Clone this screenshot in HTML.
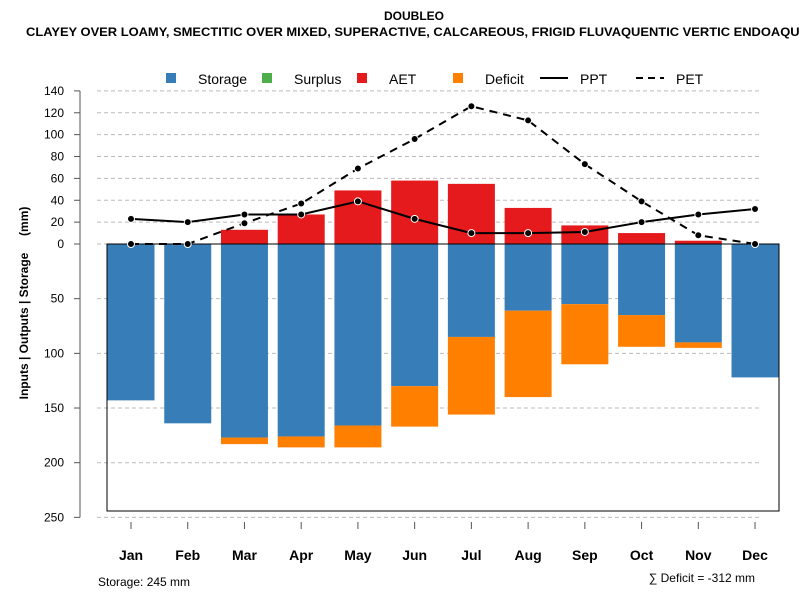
<!DOCTYPE html>
<html><head><meta charset="utf-8"><style>
body{margin:0;background:#fff;overflow:hidden;}
svg text{font-family:"Liberation Sans",sans-serif;}
</style></head><body>
<svg id="chart" width="800" height="600" xmlns="http://www.w3.org/2000/svg">
<text x="414" y="20" text-anchor="middle" font-size="12" font-weight="bold">DOUBLEO</text>
<text x="26" y="36" font-size="12" font-weight="bold" textLength="808" lengthAdjust="spacingAndGlyphs">CLAYEY OVER LOAMY, SMECTITIC OVER MIXED, SUPERACTIVE, CALCAREOUS, FRIGID FLUVAQUENTIC VERTIC ENDOAQUOLLS</text>
<g id="legend">
<rect x="166" y="73" width="10" height="10" fill="#377eb8"/>
<text x="198" y="84" font-size="14">Storage</text>
<rect x="262" y="73" width="10" height="10" fill="#4daf4a"/>
<text x="294" y="84" font-size="14">Surplus</text>
<rect x="357" y="73" width="10" height="10" fill="#e41a1c"/>
<text x="389" y="84" font-size="14">AET</text>
<rect x="453" y="73" width="10" height="10" fill="#ff7f00"/>
<text x="485" y="84" font-size="14">Deficit</text>
<line x1="540" y1="78" x2="568" y2="78" stroke="#000" stroke-width="2"/>
<text x="580" y="84" font-size="14">PPT</text>
<line x1="636" y1="78" x2="664" y2="78" stroke="#000" stroke-width="2" stroke-dasharray="7,5"/>
<text x="676" y="84" font-size="14">PET</text>
</g>
<g id="grid"></g><g id="bars"></g><g id="lines"></g><g id="axes"></g>
<text x="98" y="586" font-size="12">Storage: 245 mm</text>
<text x="755" y="582" text-anchor="end" font-size="12">∑ Deficit = -312 mm</text>
<text transform="translate(28,303) rotate(-90)" text-anchor="middle" font-size="12" font-weight="bold" xml:space="preserve" style="white-space:pre">Inputs | Outputs | Storage     (mm)</text>
</svg>
<script>
const months=["Jan","Feb","Mar","Apr","May","Jun","Jul","Aug","Sep","Oct","Nov","Dec"];
const storage=[143,164,177,176,166,130,85,61,55,65,90,122];
const deficit=[0,0,6,10,20,37,71,79,55,29,5,0];
const aet=[0,0,13,27,49,58,55,33,17,10,3,0];
const ppt=[23,20,27,27,39,23,10,10,11,20,27,32];
const pet=[0,0,19,37,69,96,126,113,73,39,8,0];
const upTicks=[0,20,40,60,80,100,120,140];
const downTicks=[50,100,150,200,250];
const NS="http://www.w3.org/2000/svg";
const Y0=244,K=1.0935;
const y=v=>Y0-v*K;
const x=i=>131+i*56.73;
const BW=47;
function mk(t,a,p){const e=document.createElementNS(NS,t);for(const k in a)e.setAttribute(k,a[k]);document.getElementById(p).appendChild(e);return e;}
upTicks.forEach(v=>{const l=mk('line',{x1:97,x2:760,y1:y(v),y2:y(v),stroke:'#bbb','stroke-dasharray':'4,3'},'grid');

});
downTicks.forEach(v=>{const l=mk('line',{x1:97,x2:760,y1:y(-v),y2:y(-v),stroke:'#bbb','stroke-dasharray':'4,3'},'grid');

});
months.forEach((m,i)=>{
 let r=mk('rect',{x:x(i)-BW/2,y:y(0),width:BW,height:storage[i]*K,fill:'#377eb8'},'bars');
 
 
 if(deficit[i]>0){let d=mk('rect',{x:x(i)-BW/2,y:y(-storage[i]),width:BW,height:deficit[i]*K,fill:'#ff7f00'},'bars');
 
 }
 if(aet[i]>0){let a=mk('rect',{x:x(i)-BW/2,y:y(aet[i]),width:BW,height:aet[i]*K,fill:'#e41a1c'},'bars');
 
 }
});
let box=mk('rect',{x:107,y:y(0),width:672,height:267,fill:'none',stroke:'#000'},'bars');


let pl=mk('polyline',{points:ppt.map((v,i)=>x(i)+','+y(v)).join(' '),fill:'none',stroke:'#000','stroke-width':2},'lines');


let pe=mk('polyline',{points:pet.map((v,i)=>x(i)+','+y(v)).join(' '),fill:'none',stroke:'#000','stroke-width':2,'stroke-dasharray':'8,6'},'lines');


[ppt,pet].forEach((s,j)=>s.forEach((v,i)=>{let c=mk('circle',{cx:x(i),cy:y(v),r:3.5,fill:'#000',stroke:'#fff','stroke-width':1},'lines');

}));
let ax=mk('line',{x1:80,x2:80,y1:y(140),y2:y(-250),stroke:'#555','stroke-width':1},'axes');


const ticks=upTicks.map(v=>[v,v]).concat(downTicks.map(v=>[-v,v]));
ticks.forEach(([p,l])=>{let t=mk('line',{x1:74,x2:80,y1:y(p),y2:y(p),stroke:'#555'},'axes');


let tx=mk('text',{x:64,y:y(p)+4,'text-anchor':'end','font-size':12},'axes');tx.textContent=l;

});
months.forEach((m,i)=>{let t=mk('line',{x1:x(i),x2:x(i),y1:522,y2:529,stroke:'#555'},'axes');


let tx=mk('text',{x:x(i),y:560,'text-anchor':'middle','font-size':14,'font-weight':'bold'},'axes');tx.textContent=m;

});
</script>
</body></html>
